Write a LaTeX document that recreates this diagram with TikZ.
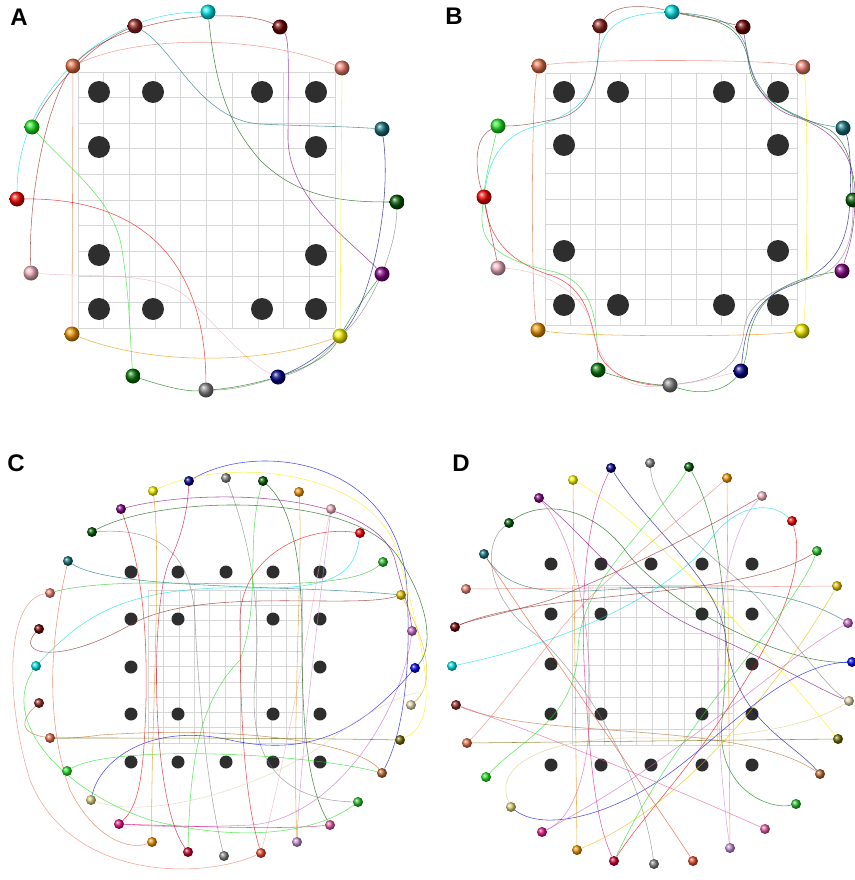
\documentclass[tikz,border=0pt]{standalone}
\usepackage{fontspec}
\newfontfamily\panelfont{Liberation Sans}
\usetikzlibrary{positioning}
\pgfdeclarelayer{bottom}
\pgfdeclarelayer{wires}
\pgfsetlayers{bottom,wires,main}

\definecolor{sCyan}{RGB}{0,225,230}
\definecolor{sBrown}{RGB}{140,35,30}
\definecolor{sDarkred}{RGB}{105,0,0}
\definecolor{sCoral}{RGB}{225,110,70}
\definecolor{sSalmon}{RGB}{235,125,110}
\definecolor{sLime}{RGB}{30,225,30}
\definecolor{sTeal}{RGB}{20,110,120}
\definecolor{sRed}{RGB}{240,0,0}
\definecolor{sForest}{RGB}{0,85,0}
\definecolor{sPink}{RGB}{240,175,190}
\definecolor{sPurple}{RGB}{125,0,125}
\definecolor{sOrange}{RGB}{235,145,0}
\definecolor{sYellow}{RGB}{245,240,0}
\definecolor{sGreen}{RGB}{0,115,0}
\definecolor{sGray}{RGB}{130,130,130}
\definecolor{sNavy}{RGB}{0,0,130}
\definecolor{sGold}{RGB}{225,190,0}
\definecolor{sOrchid}{RGB}{200,100,200}
\definecolor{sBlue}{RGB}{0,0,235}
\definecolor{sBeige}{RGB}{225,210,170}
\definecolor{sOlive}{RGB}{110,105,0}
\definecolor{sTan}{RGB}{185,105,45}
\definecolor{sKhaki}{RGB}{215,205,120}
\definecolor{sMagenta}{RGB}{225,20,130}
\definecolor{sHotpink}{RGB}{225,90,160}
\definecolor{sCrimson}{RGB}{200,0,45}
\definecolor{sTomato}{RGB}{225,75,40}
\definecolor{sPlum}{RGB}{195,140,210}
\definecolor{sRust}{RGB}{140,40,35}
\definecolor{sMidgreen}{RGB}{40,190,40}

\begin{document}
\begin{tikzpicture}[
    x=1pt, y=-1pt,
    ball/.style={circle, shade, ball color=#1, inner sep=0pt, minimum size=15pt},
    bead/.style={circle, shade, ball color=#1, inner sep=0pt, minimum size=10pt},
    pad/.style={circle, fill=black!82, inner sep=0pt, minimum size=22pt},
    smallpad/.style={pad, minimum size=13pt},
    gridline/.style={draw=black!16, line width=0.7pt},
    wire/.style={draw=#1, line width=0.55pt, opacity=0.7},
    panel/.style={font=\panelfont\bfseries\fontsize{24}{24}\selectfont, inner sep=0pt},
]
\useasboundingbox (0,0) rectangle (854,880);

% panel labels
\node[panel] (labA) at (19,17) {A};
\node[panel] (labB) at (454,16) {B};
\node[panel] (labC) at (16,463) {C};
\node[panel] (labD) at (461,463) {D};

% grids and pads
\begin{pgfonlayer}{bottom}
\fill[white] (0,0) rectangle (854,880);
\foreach \k in {0,...,10} {
  \draw[gridline] ({78+\k*25.7},72) -- ({78+\k*25.7},328);
  \draw[gridline] (78,{72+\k*25.6}) -- (335,{72+\k*25.6});
  \draw[gridline] ({545+\k*25.2},73) -- ({545+\k*25.2},325);
  \draw[gridline] (545,{73+\k*25.2}) -- (797,{73+\k*25.2});
  \draw[gridline, line width=0.5pt] ({148+\k*15.4},590) -- ({148+\k*15.4},743);
  \draw[gridline, line width=0.5pt] (148,{590+\k*15.3}) -- (302,{590+\k*15.3});
  \draw[gridline, line width=0.5pt] ({572+\k*16.1},585) -- ({572+\k*16.1},745);
  \draw[gridline, line width=0.5pt] (572,{585+\k*16}) -- (733,{585+\k*16});
}
\foreach \px/\py [count=\i] in {99/92,153/92,262/92,316/92,99/147,316/147,
    99/255,316/255,99/309,153/309,262/309,316/309}
  \node[pad] (aP\i) at (\px,\py) {};
\foreach \px/\py [count=\i] in {564/92,618/92,724/92,778/92,564/145,778/145,
    564/251,778/251,564/305,618/305,724/305,778/305}
  \node[pad] (bP\i) at (\px,\py) {};
\foreach \px/\py [count=\i] in {131/572,178/572,226/572,273/572,320/572,
    131/619,178/619,273/619,320/619,131/667,320/667,
    131/714,178/714,273/714,320/714,131/762,178/762,226/762,273/762,320/762}
  \node[smallpad] (cP\i) at (\px,\py) {};
\foreach \px/\py [count=\i] in {551/564,601/564,651/564,702/564,752/564,
    551/614,601/614,702/614,752/614,551/664,752/664,
    551/714,601/714,702/714,752/714,551/765,601/765,651/765,702/765,752/765}
  \node[smallpad] (dP\i) at (\px,\py) {};
\end{pgfonlayer}

% panel A terminals
\node[ball=sCyan] (aCy) at (208,12) {};
\node[ball=sBrown] (aBr) at (135,26) {};
\node[ball=sDarkred] (aDr) at (280,27) {};
\node[ball=sCoral] (aCo) at (73,66) {};
\node[ball=sSalmon] (aSa) at (342,68) {};
\node[ball=sLime] (aGr) at (32,127) {};
\node[ball=sTeal] (aTe) at (382,129) {};
\node[ball=sRed] (aRd) at (17,199) {};
\node[ball=sForest] (aDg) at (397,202) {};
\node[ball=sPink] (aPk) at (31,273) {};
\node[ball=sPurple] (aPu) at (382,274) {};
\node[ball=sOrange] (aOr) at (72,334) {};
\node[ball=sYellow] (aYe) at (340,336) {};
\node[ball=sGreen] (aG2) at (133,376) {};
\node[ball=sGray] (aGy) at (206,390) {};
\node[ball=sNavy] (aNv) at (278,377) {};

% panel B terminals
\node[ball=sCyan] (bCy) at (672,12) {};
\node[ball=sBrown] (bBr) at (600,26) {};
\node[ball=sDarkred] (bDr) at (743,27) {};
\node[ball=sCoral] (bCo) at (539,66) {};
\node[ball=sSalmon] (bSa) at (803,67) {};
\node[ball=sLime] (bGr) at (498,126) {};
\node[ball=sTeal] (bTe) at (843,128) {};
\node[ball=sRed] (bRd) at (484,197) {};
\node[ball=sForest] (bDg) at (853,200) {};
\node[ball=sPink] (bPk) at (498,268) {};
\node[ball=sPurple] (bPu) at (842,271) {};
\node[ball=sOrange] (bOr) at (538,330) {};
\node[ball=sYellow] (bYe) at (802,331) {};
\node[ball=sGreen] (bG2) at (598,370) {};
\node[ball=sGray] (bGy) at (670,385) {};
\node[ball=sNavy] (bNv) at (741,371) {};

% panel C terminals
\node[bead=sYellow] (cYe) at (153,491) {};
\node[bead=sNavy] (cNv) at (189,481) {};
\node[bead=sGray] (cGy) at (226,478) {};
\node[bead=sForest] (cDg) at (263,481) {};
\node[bead=sOrange] (cOr) at (299,492) {};
\node[bead=sPurple] (cPu) at (121,509) {};
\node[bead=sPink] (cPk) at (331,509) {};
\node[bead=sForest] (cFo) at (92,532) {};
\node[bead=sRed] (cRd) at (360,533) {};
\node[bead=sTeal] (cTe) at (68,561) {};
\node[bead=sMidgreen] (cGr) at (383,562) {};
\node[bead=sSalmon] (cSa) at (50,593) {};
\node[bead=sGold] (cGo) at (401,595) {};
\node[bead=sDarkred] (cDr) at (39,629) {};
\node[bead=sOrchid] (cOc) at (412,631) {};
\node[bead=sCyan] (cCy) at (36,666) {};
\node[bead=sBlue] (cBl) at (415,668) {};
\node[bead=sRust] (cRu) at (39,703) {};
\node[bead=sBeige] (cBe) at (411,705) {};
\node[bead=sCoral] (cCo) at (50,738) {};
\node[bead=sOlive] (cOl) at (400,740) {};
\node[bead=sLime] (cLi) at (67,771) {};
\node[bead=sTan] (cTa) at (382,773) {};
\node[bead=sKhaki] (cKh) at (91,800) {};
\node[bead=sMidgreen] (cGn) at (358,802) {};
\node[bead=sMagenta] (cMg) at (119,824) {};
\node[bead=sHotpink] (cHp) at (330,825) {};
\node[bead=sOrange] (cOr2) at (152,842) {};
\node[bead=sPlum] (cPl) at (297,842) {};
\node[bead=sCrimson] (cCr) at (188,852) {};
\node[bead=sGray] (cGy2) at (224,856) {};
\node[bead=sTomato] (cTo) at (261,853) {};

% panel D terminals
\node[bead=sGray] (dGy) at (650,463) {};
\node[bead=sNavy] (dNv) at (611,468) {};
\node[bead=sForest] (dFo) at (689,467) {};
\node[bead=sYellow] (dYe) at (573,480) {};
\node[bead=sOrange] (dOr) at (727,478) {};
\node[bead=sPurple] (dPu) at (539,498) {};
\node[bead=sPink] (dPk) at (762,496) {};
\node[bead=sForest] (dFo2) at (509,523) {};
\node[bead=sRed] (dRd) at (792,521) {};
\node[bead=sTeal] (dTe) at (484,554) {};
\node[bead=sMidgreen] (dGr) at (817,551) {};
\node[bead=sSalmon] (dSa) at (466,589) {};
\node[bead=sGold] (dGo) at (837,586) {};
\node[bead=sDarkred] (dDr) at (455,627) {};
\node[bead=sOrchid] (dOc) at (848,623) {};
\node[bead=sCyan] (dCy) at (452,666) {};
\node[bead=sBlue] (dBl) at (852,662) {};
\node[bead=sRust] (dRu) at (456,705) {};
\node[bead=sBeige] (dBe) at (849,701) {};
\node[bead=sCoral] (dCo) at (467,743) {};
\node[bead=sOlive] (dOl) at (838,739) {};
\node[bead=sLime] (dLi) at (486,777) {};
\node[bead=sTan] (dTa) at (820,774) {};
\node[bead=sKhaki] (dKh) at (511,807) {};
\node[bead=sMidgreen] (dGn) at (796,804) {};
\node[bead=sMagenta] (dMg) at (542,832) {};
\node[bead=sHotpink] (dHp) at (765,829) {};
\node[bead=sOrange] (dOr2) at (577,850) {};
\node[bead=sPlum] (dPl) at (730,848) {};
\node[bead=sCrimson] (dCr) at (614,861) {};
\node[bead=sGray] (dGy2) at (654,864) {};
\node[bead=sTomato] (dTo) at (693,861) {};

\begin{pgfonlayer}{wires}
% panel A routes
\draw[wire=sCyan] (aCy) .. controls (102,12) and (17,95) .. (aRd);
\draw[wire=sBrown] (aDr) .. controls (235,6) and (120,18) .. (aCo) .. controls (45,110) and (28,200) .. (aPk);
\draw[wire=sBrown] (aBr) .. controls (90,45) and (50,90) .. (aGr);
\draw[wire=sSalmon] (aCo) .. controls (140,35) and (260,35) .. (aSa);
\draw[wire=sCoral] (aCo) -- (aOr);
\draw[wire=sTeal] (aBr) .. controls (175,50) and (200,120) .. (260,124) .. controls (300,126) and (340,126) .. (aTe);
\draw[wire=sForest] (aCy) .. controls (215,80) and (225,120) .. (260,160) .. controls (300,200) and (350,202) .. (aDg);
\draw[wire=sPurple] (aDr) .. controls (290,40) and (288,80) .. (288,140) .. controls (290,200) and (350,240) .. (aPu);
\draw[wire=sYellow] (aSa) -- (aYe);
\draw[wire=sLime] (aGr) .. controls (70,170) and (115,200) .. (122,250) .. controls (130,300) and (130,340) .. (aG2);
\draw[wire=sRed] (aRd) .. controls (120,198) and (205,240) .. (aGy);
\draw[wire=sPink] (aPk) .. controls (100,278) and (160,270) .. (190,300) .. controls (220,330) and (250,365) .. (aNv);
\draw[wire=sOrange] (aOr) .. controls (150,365) and (260,365) .. (aYe);
\draw[wire=sNavy] (aTe) .. controls (392,200) and (372,300) .. (aYe) .. controls (320,356) and (300,368) .. (aNv);
\draw[wire=sGray] (aDg) .. controls (396,260) and (362,318) .. (aYe) .. controls (320,360) and (300,372) .. (aNv) .. controls (250,386) and (230,390) .. (aGy);
\draw[wire=sGreen] (aG2) .. controls (160,385) and (185,392) .. (aGy) .. controls (240,388) and (320,372) .. (aYe) .. controls (355,310) and (370,290) .. (aPu);

% panel B routes
\draw[wire=sSalmon] (bCo) .. controls (580,59) and (770,59) .. (bSa);
\draw[wire=sCoral] (bCo) .. controls (531,95) and (531,300) .. (bOr);
\draw[wire=sYellow] (bSa) .. controls (808,95) and (808,300) .. (bYe);
\draw[wire=sOrange] (bOr) .. controls (580,337) and (760,337) .. (bYe);
\draw[wire=sCyan] (bCy) .. controls (630,14) and (602,20) .. (598,60) .. controls (594,105) and (565,118) .. (530,128) .. controls (495,140) and (488,170) .. (bRd);
\draw[wire=sBrown] (bBr) .. controls (598,60) and (598,108) .. (560,118) .. controls (530,125) and (515,126) .. (bGr);
\draw[wire=sBrown] (bBr) .. controls (615,2) and (650,6) .. (bCy) .. controls (700,18) and (725,22) .. (bDr);
\draw[wire=sBrown] (bGr) .. controls (470,140) and (478,180) .. (bRd) .. controls (490,230) and (495,250) .. (bPk);
\draw[wire=sRed] (bRd) .. controls (490,240) and (510,262) .. (550,275) .. controls (588,288) and (590,320) .. (598,350) .. controls (606,376) and (640,386) .. (bGy);
\draw[wire=sLime] (bGr) .. controls (490,160) and (484,180) .. (482,215) .. controls (480,250) and (510,262) .. (555,272) .. controls (594,284) and (597,320) .. (bG2);
\draw[wire=sPink] (bPk) .. controls (540,270) and (580,290) .. (590,320) .. controls (598,360) and (618,392) .. (bGy);
\draw[wire=sGreen] (bG2) .. controls (620,378) and (650,385) .. (bGy) .. controls (700,396) and (742,395) .. (747,350) .. controls (752,300) and (780,280) .. (bPu);
\draw[wire=sNavy] (bNv) .. controls (745,330) and (752,300) .. (790,286) .. controls (838,268) and (848,240) .. (850,200) .. controls (852,160) and (848,138) .. (bTe);
\draw[wire=sGray] (bGy) .. controls (710,380) and (740,372) .. (744,330) .. controls (748,295) and (790,284) .. (820,276) .. controls (850,262) and (853,230) .. (bDg);
\draw[wire=sPurple] (bDr) .. controls (748,60) and (752,100) .. (790,115) .. controls (840,130) and (856,160) .. (855,200) .. controls (854,240) and (846,255) .. (bPu);
\draw[wire=sTeal] (bCy) .. controls (712,16) and (742,20) .. (748,55) .. controls (755,100) and (790,120) .. (bTe);
\draw[wire=sForest] (bCy) .. controls (722,20) and (743,26) .. (749,65) .. controls (754,105) and (800,115) .. (830,130) .. controls (850,145) and (853,170) .. (bDg);
\draw[wire=sPink] (bGy) .. controls (700,382) and (720,376) .. (bNv);

% panel C routes
\draw[wire=sBlue] (cNv) .. controls (260,440) and (400,460) .. (407,590) .. controls (412,680) and (400,740) .. (cTa);
\draw[wire=sYellow] (cYe) .. controls (230,455) and (380,470) .. (400,560) .. controls (420,640) and (445,720) .. (cOl);
\draw[wire=sGray] (cGy) .. controls (250,540) and (262,610) .. (255,680) .. controls (248,760) and (280,800) .. (cGn);
\draw[wire=sForest] (cDg) .. controls (295,510) and (302,570) .. (302,640) .. controls (302,740) and (310,790) .. (cHp);
\draw[wire=sLime] (cDg) .. controls (245,540) and (262,600) .. (240,660) .. controls (200,700) and (190,760) .. (cCr);
\draw[wire=sOrange] (cOr) .. controls (303,560) and (292,720) .. (cPl);
\draw[wire=sPurple] (cPu) .. controls (200,488) and (375,490) .. (395,560) .. controls (405,600) and (410,610) .. (cOc);
\draw[wire=sRed] (cPu) .. controls (135,550) and (148,600) .. (146,700) .. controls (144,770) and (140,805) .. (cMg);
\draw[wire=sPink] (cPk) .. controls (318,560) and (300,700) .. (cTo);
\draw[wire=sForest] (cFo) .. controls (160,495) and (360,490) .. (400,560) .. controls (432,610) and (432,650) .. (cBl);
\draw[wire=sGray] (cFo) .. controls (150,528) and (192,545) .. (195,620) .. controls (200,720) and (210,800) .. (cGy2);
\draw[wire=sRed] (cRd) .. controls (300,525) and (240,560) .. (240,620) .. controls (240,720) and (245,800) .. (cTo);
\draw[wire=sTeal] (cTe) .. controls (110,590) and (300,585) .. (cGo);
\draw[wire=sSalmon] (cSa) .. controls (5,600) and (5,700) .. (30,780) .. controls (70,880) and (200,880) .. (cTo);
\draw[wire=sCyan] (cCy) .. controls (80,620) and (120,585) .. (250,588) .. controls (340,590) and (355,570) .. (cRd);
\draw[wire=sBrown] (cDr) .. controls (15,655) and (60,665) .. (130,625) .. controls (200,585) and (350,610) .. (cGo);
\draw[wire=sOrchid] (cOc) .. controls (400,720) and (330,820) .. (250,825) .. controls (180,828) and (150,826) .. (cMg);
\draw[wire=sBlue] (cBl) .. controls (370,720) and (320,760) .. (230,740) .. controls (150,722) and (100,760) .. (cKh);
\draw[wire=sTan] (cRu) .. controls (10,730) and (30,745) .. (100,735) .. controls (250,725) and (360,745) .. (cTa);
\draw[wire=sOlive] (cOl) .. controls (300,738) and (150,738) .. (cCo);
\draw[wire=sBeige] (cBe) .. controls (440,680) and (380,700) .. (330,740) .. controls (260,790) and (150,820) .. (cKh);
\draw[wire=sLime] (cCy) .. controls (0,720) and (60,790) .. (150,820) .. controls (250,845) and (320,830) .. (cGn);
\draw[wire=sMagenta] (cMg) .. controls (180,826) and (280,830) .. (cHp);
\draw[wire=sOrange] (cOr2) .. controls (150,750) and (162,560) .. (cYe);
\draw[wire=sCrimson] (cCr) .. controls (150,800) and (150,600) .. (170,560) .. controls (185,530) and (188,500) .. (cNv);
\draw[wire=sMidgreen] (cGr) .. controls (350,590) and (250,583) .. (150,583) .. controls (90,583) and (60,590) .. (cSa);
\draw[wire=sLime] (cLi) .. controls (110,745) and (300,752) .. (cTa);
\draw[wire=sPlum] (cPl) .. controls (300,760) and (320,600) .. (cPk);
\draw[wire=sGold] (cGo) .. controls (420,630) and (440,680) .. (cBe);
\draw[wire=sCoral] (cTe) .. controls (50,640) and (45,720) .. (70,790) .. controls (95,840) and (130,850) .. (cOr2);

% panel D routes
\draw[wire=sOrange] (dYe) -- (dOr2);
\draw[wire=sOrange] (dOr) -- (dPl);
\draw[wire=sSalmon] (dSa) -- (dGo);
\draw[wire=sOlive] (dCo) -- (dOl);
\draw[wire=sYellow] (dYe) .. controls (630,510) and (760,640) .. (dOl);
\draw[wire=sNavy] (dNv) .. controls (650,530) and (720,580) .. (726,640) .. controls (735,720) and (790,740) .. (dTa);
\draw[wire=sMagenta] (dNv) .. controls (585,520) and (580,600) .. (585,680) .. controls (590,760) and (595,820) .. (dCr);
\draw[wire=sGray] (dGy) .. controls (655,520) and (720,560) .. (760,600) .. controls (800,650) and (830,690) .. (dBe);
\draw[wire=sGreen] (dFo) .. controls (725,530) and (730,640) .. (722,720) .. controls (715,790) and (770,810) .. (dGn);
\draw[wire=sLime] (dFo) .. controls (650,530) and (580,580) .. (578,650) .. controls (575,720) and (520,740) .. (dLi);
\draw[wire=sSalmon] (dOr) .. controls (680,520) and (600,580) .. (560,630) .. controls (520,680) and (490,720) .. (dCo);
\draw[wire=sPurple] (dPu) .. controls (590,540) and (630,600) .. (700,630) .. controls (780,665) and (820,690) .. (dBe);
\draw[wire=sHotpink] (dPu) .. controls (575,540) and (590,620) .. (590,700) .. controls (590,780) and (570,820) .. (dMg);
\draw[wire=sForest] (dFo2) .. controls (540,500) and (590,505) .. (625,550) .. controls (660,600) and (780,665) .. (dBl);
\draw[wire=sGray] (dFo2) .. controls (480,545) and (490,600) .. (530,630) .. controls (570,660) and (640,760) .. (dGy2);
\draw[wire=sRed] (dRd) .. controls (810,580) and (760,660) .. (720,720) .. controls (680,780) and (640,820) .. (dCr);
\draw[wire=sCyan] (dRd) .. controls (770,500) and (735,505) .. (710,540) .. controls (680,585) and (580,640) .. (dCy);
\draw[wire=sTeal] (dTe) .. controls (520,610) and (600,585) .. (680,587) .. controls (760,588) and (810,600) .. (dOc);
\draw[wire=sRust] (dDr) .. controls (540,590) and (740,600) .. (dGr);
\draw[wire=sGold] (dGo) .. controls (800,650) and (700,800) .. (dOr2);
\draw[wire=sBlue] (dBl) .. controls (780,665) and (720,740) .. (660,780) .. controls (600,820) and (540,830) .. (dKh);
\draw[wire=sRust] (dPk) .. controls (720,520) and (650,560) .. (550,600) .. controls (500,615) and (470,620) .. (dDr);
\draw[wire=sOrchid] (dOc) .. controls (780,660) and (680,760) .. (dMg);
\draw[wire=sTan] (dRu) .. controls (540,740) and (740,720) .. (dTa);
\draw[wire=sLime] (dGr) .. controls (790,620) and (680,720) .. (dCr);
\draw[wire=sHotpink] (dHp) .. controls (700,800) and (560,740) .. (dRu);
\draw[wire=sPlum] (dPl) .. controls (720,780) and (700,560) .. (dPk);
\draw[wire=sKhaki] (dKh) .. controls (490,760) and (560,735) .. (650,738) .. controls (760,740) and (820,720) .. (dBe);
\draw[wire=sTomato] (dTo) .. controls (640,780) and (540,640) .. (dTe);
\end{pgfonlayer}

\end{tikzpicture}
\end{document}
